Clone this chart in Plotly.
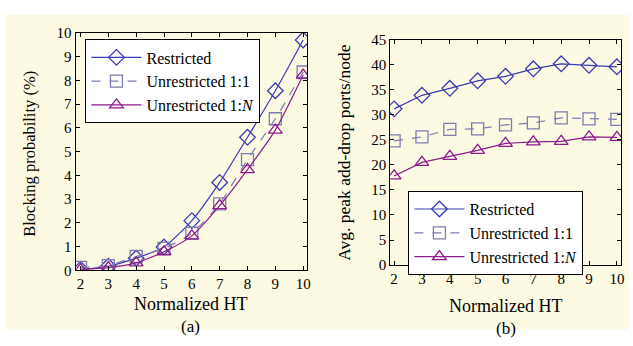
import plotly.graph_objects as go

ht = [2, 3, 4, 5, 6, 7, 8, 9, 10]

# (a) Blocking probability (%)
block_restricted = [0.04, 0.17, 0.51, 0.98, 2.09, 3.70, 5.60, 7.56, 9.70]
block_unres_11 = [0.12, 0.20, 0.58, 0.92, 1.56, 2.80, 4.66, 6.38, 8.35]
block_unres_1n = [0.03, 0.11, 0.31, 0.78, 1.45, 2.72, 4.24, 5.90, 8.22]

# (b) Avg. peak add-drop ports/node
ports_restricted = [31.2, 33.9, 35.3, 36.8, 37.7, 39.2, 40.2, 39.9, 39.6]
ports_unres_11 = [24.8, 25.6, 27.1, 27.2, 28.0, 28.4, 29.4, 29.2, 29.1]
ports_unres_1n = [17.8, 20.5, 21.7, 22.9, 24.3, 24.6, 24.7, 25.6, 25.5]

names = ["Restricted", "Unrestricted 1:1", "Unrestricted 1:<i>N</i>"]
colors = ["#3B3BB5", "#7C7CB0", "#8E1A8E"]
symbols = ["diamond-open", "square-open", "triangle-up-open"]
dashes = ["solid", "dash", "solid"]

W, H = 633, 346
FONT = "Liberation Serif"

fig = go.Figure()

left_series = [block_restricted, block_unres_11, block_unres_1n]
right_series = [ports_restricted, ports_unres_11, ports_unres_1n]

for i in range(3):
    fig.add_trace(go.Scatter(
        x=ht, y=left_series[i], name=names[i], mode="lines+markers",
        line=dict(color=colors[i], width=1.2, dash=dashes[i], shape="spline", smoothing=0.6),
        marker=dict(symbol=symbols[i], size=12, color=colors[i], line=dict(width=1.3, color=colors[i])),
        xaxis="x", yaxis="y", legend="legend", showlegend=True))
for i in range(3):
    fig.add_trace(go.Scatter(
        x=ht, y=right_series[i], name=names[i], mode="lines+markers",
        line=dict(color=colors[i], width=1.2, dash=dashes[i]),
        marker=dict(symbol=symbols[i], size=12, color=colors[i], line=dict(width=1.3, color=colors[i])),
        xaxis="x2", yaxis="y2", legend="legend2", showlegend=True))


def px(x):
    return x / W


def py(y):
    return 1 - y / H


axis_common = dict(showline=True, linecolor="black", linewidth=1, mirror="ticks",
                   ticks="inside", ticklen=4, tickcolor="black", showgrid=False,
                   zeroline=False, tickfont=dict(family=FONT, size=15, color="black"))

legend_common = dict(xanchor="left", yanchor="top", bgcolor="white",
                     bordercolor="black", borderwidth=1,
                     font=dict(family=FONT, size=16, color="black"),
                     tracegroupgap=0, itemwidth=50)


def ann(text, x, y, size, angle=0):
    return dict(text=text, x=px(x), y=py(y), xref="paper", yref="paper", showarrow=False,
                xanchor="center", yanchor="middle", textangle=angle,
                font=dict(family=FONT, size=size, color="black"))


fig.update_layout(
    width=W, height=H, margin=dict(l=0, r=0, t=0, b=0),
    paper_bgcolor="white", plot_bgcolor="white",
    font=dict(family=FONT, color="black"),
    xaxis=dict(domain=[px(76), px(309)], range=[1.82, 10.14], tickvals=ht, anchor="y", **axis_common),
    yaxis=dict(domain=[py(275), py(26)], range=[0, 10], dtick=1, anchor="x", **axis_common),
    xaxis2=dict(domain=[px(392.7), px(625)], range=[1.86, 10.15], tickvals=ht, anchor="y2", **axis_common),
    yaxis2=dict(domain=[py(269.5), py(33.3)], range=[0, 45], dtick=5, anchor="x2", **axis_common),
    legend=dict(x=px(86), y=py(33), **legend_common),
    legend2=dict(x=px(411), y=py(192), **legend_common),
    shapes=[dict(type="rect", xref="paper", yref="paper", x0=px(6), x1=1.0, y0=py(337), y1=py(7),
                 fillcolor="#FCFAE2", line=dict(width=0), layer="below")],
    annotations=[
        ann("Normalized HT", 192, 310, 18),
        ann("(a)", 192, 334, 17),
        ann("Blocking probability (%)", 30, 153, 16.5, -90),
        ann("Normalized HT", 509, 312, 18),
        ann("(b)", 509, 336, 17),
        ann("Avg. peak add-drop ports/node", 346, 151, 17.5, -90),
    ],
)

post = (
    "document.documentElement.style.margin='0';"
    "document.body.style.margin='0';"
    "document.body.style.overflow='hidden';"
)
fig.write_html("out.html", config={"displayModeBar": False}, post_script=post)
